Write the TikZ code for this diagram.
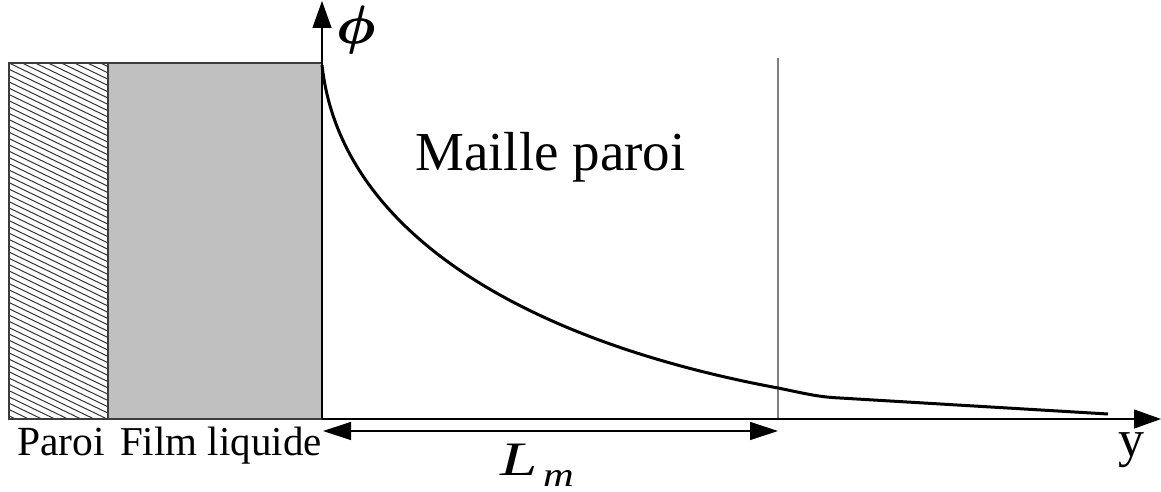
\RequirePackage{fix-cm}
\documentclass[tikz,border=0pt]{standalone}
\usepackage{fontspec}
\setmainfont{Liberation Serif}
\usepackage{bm}
\usetikzlibrary{arrows.meta}
\definecolor{filmgray}{RGB}{192,192,192}
\definecolor{edgegray}{RGB}{60,60,60}
\definecolor{linegray}{RGB}{128,128,128}
\newcommand{\heavyphi}{\rlap{$\bm{\phi}$}\kern1.2pt$\bm{\phi}$}
\tikzset{
  axisline/.style={line width=1.3pt, black, -{Triangle[length=27pt,width=19pt]}},
  dimline/.style={line width=1.3pt, black, {Triangle[length=28pt,width=18pt]}-{Triangle[length=28pt,width=18pt]}},
  boxedge/.style={line width=1.4pt, draw=edgegray},
  hatchline/.style={line width=1pt, black!80},
  profile/.style={line width=3pt, black, line join=round},
  lbl/.style={inner sep=0pt, anchor=base west},
}
\begin{document}
\begin{tikzpicture}[x=1pt,y=-1pt]
\useasboundingbox (0,0) rectangle (1161,492);
% regions
\coordinate (wallTL) at (9,63);
\coordinate (wallBR) at (108,419);
\coordinate (filmTL) at (108,63);
\coordinate (filmBR) at (322,419);
\fill[filmgray] (filmTL) rectangle (filmBR);
\begin{scope}
  \clip (wallTL) rectangle (wallBR);
  \foreach \k in {-20,...,60}
    \draw[hatchline] (9,63+6.3*\k) -- ++(110,53);
\end{scope}
\draw[boxedge] (wallTL) rectangle (wallBR);
\draw[boxedge] (filmTL) rectangle (filmBR);
% cell boundary
\coordinate (cellTop) at (778,58);
\coordinate (cellBot) at (778,419);
\draw[linegray, line width=1.6pt] (cellTop) -- (cellBot);
% axes
\coordinate (origin) at (322,419);
\coordinate (phiEnd) at (322,1);
\coordinate (yEnd) at (1161,419);
\draw[axisline] (origin) -- (phiEnd);
\draw[axisline] (origin) -- (yEnd);
% profile curve
\coordinate (c0) at (322,65);
\coordinate (c1) at (778,388);
\coordinate (c2) at (840,398);
\coordinate (c3) at (1108,414);
\draw[profile] (c0) .. controls (340,230) and (520,340) .. (c1)
  .. controls (805,393.5) and (818,397) .. (c2) -- (c3);
% L_m dimension
\coordinate (lmA) at (323,431);
\coordinate (lmB) at (778,431);
\draw[dimline] (lmA) -- (lmB);
% labels
\node[lbl] (phiLbl) at (336,44) {\fontsize{54}{62}\selectfont\heavyphi};
\node[lbl] (maille) at (415,170) {\fontsize{55}{66}\selectfont Maille paroi};
\node[lbl] (paroi) at (17,455) {\fontsize{41.5}{48}\selectfont Paroi};
\node[lbl] (film) at (120,455) {\fontsize{41}{48}\selectfont Film liquide};
\node[lbl] (lmL) at (500,475) {\scalebox{1.4}[1]{\fontsize{48}{56}\selectfont\itshape L}};
\node[lbl] (lmM) at (543,486) {\scalebox{1.25}[1]{\fontsize{34}{40}\selectfont\itshape m}};
\node[lbl] (yLbl) at (1118,456) {\fontsize{52}{60}\selectfont y};
\end{tikzpicture}
\end{document}
